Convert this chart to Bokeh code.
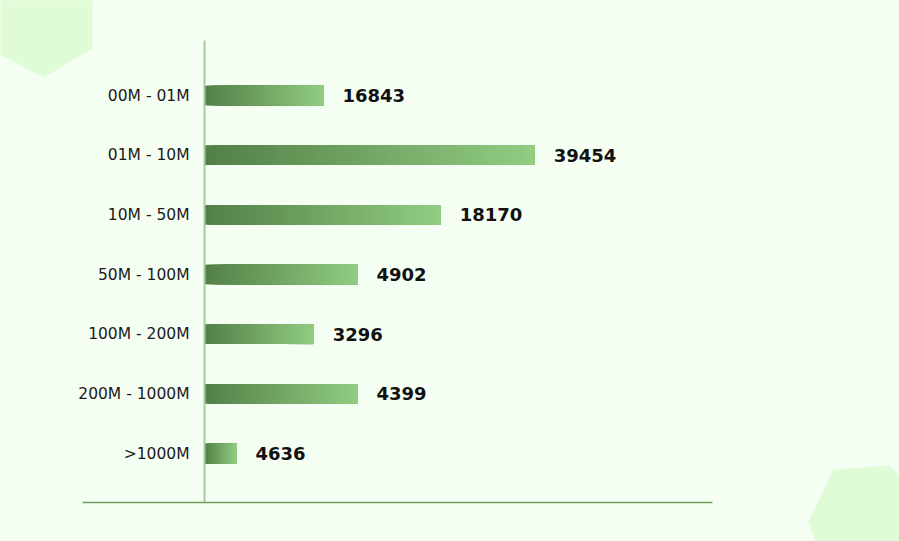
from bokeh.plotting import figure
from bokeh.models import Range1d
from bokeh.embed import file_html
from bokeh.resources import INLINE
from bokeh.core.properties import value

# ---- data ----
categories = ["00M - 01M", "01M - 10M", "10M - 50M", "50M - 100M",
              "100M - 200M", "200M - 1000M", ">1000M"]
bar_lengths = [23.4, 65.0, 46.5, 30.1, 21.5, 30.1, 6.3]   # relative bar length (0-100 scale)
value_labels = [16843, 39454, 18170, 4902, 3296, 4399, 4636]

BG = "#F5FEF2"
HEX = "#E0FCD6"
DARK = (0x53, 0x80, 0x48)
LIGHT = (0x91, 0xCC, 0x81)

W, H = 899, 541
p = figure(width=W, height=H, output_backend="svg", toolbar_location=None,
           x_range=Range1d(-40.16, 136.81), y_range=Range1d(7.474, -1.592),
           min_border=0, background_fill_color=BG, border_fill_color=BG,
           outline_line_color=None)
p.axis.visible = False
p.grid.visible = False

# decorative hexagons in page-pixel coordinates
p.extra_x_ranges = {"px": Range1d(0, W)}
p.extra_y_ranges = {"px": Range1d(H, 0)}
p.patches(xs=[[-10, 92, 92, 43, -10], [833, 890, 925, 905, 822, 808]],
          ys=[[-10, -10, 48, 77, 49], [469, 465, 515, 560, 560, 521]],
          fill_color=HEX, line_color=None,
          x_range_name="px", y_range_name="px")

ys = list(range(len(categories)))

# gradient bars: overlapping slices with interpolated colours (dark -> light)
N = 60
lefts, rights, yy, cols = [], [], [], []
for j in range(N):
    t = j / (N - 1)
    c = tuple(int(round(DARK[k] + (LIGHT[k] - DARK[k]) * t)) for k in range(3))
    for i, v in enumerate(bar_lengths):
        lefts.append(v * j / N)
        rights.append(v)
        yy.append(ys[i])
        cols.append("#%02x%02x%02x" % c)
p.hbar(y=yy, left=lefts, right=rights, height=0.33, fill_color=cols, line_color=None)

# vertical axis line and bottom line
p.segment(x0=[0], x1=[0], y0=[-0.922], y1=[6.82], line_color="#A9C9A2", line_width=2)
p.segment(x0=[-24], x1=[100], y0=[6.82], y1=[6.82], line_color="#6E9E5E", line_width=1.5)

# category labels
p.text(x=[0] * len(categories), y=ys, text=categories, x_offset=-15,
       text_align="right", text_baseline="middle",
       text_font=value("DejaVu Sans"), text_font_size="15.5px", text_color="#1a1a1a")

# value labels
p.text(x=bar_lengths, y=ys, text=[str(v) for v in value_labels], x_offset=19,
       text_align="left", text_baseline="middle",
       text_font=value("DejaVu Sans"), text_font_style="bold",
       text_font_size="18px", text_color="#111111")

html = file_html(p, INLINE)
html = html.replace("</head>", "<style>body{background:%s;}</style></head>" % BG)
open("out.html", "w").write(html)
